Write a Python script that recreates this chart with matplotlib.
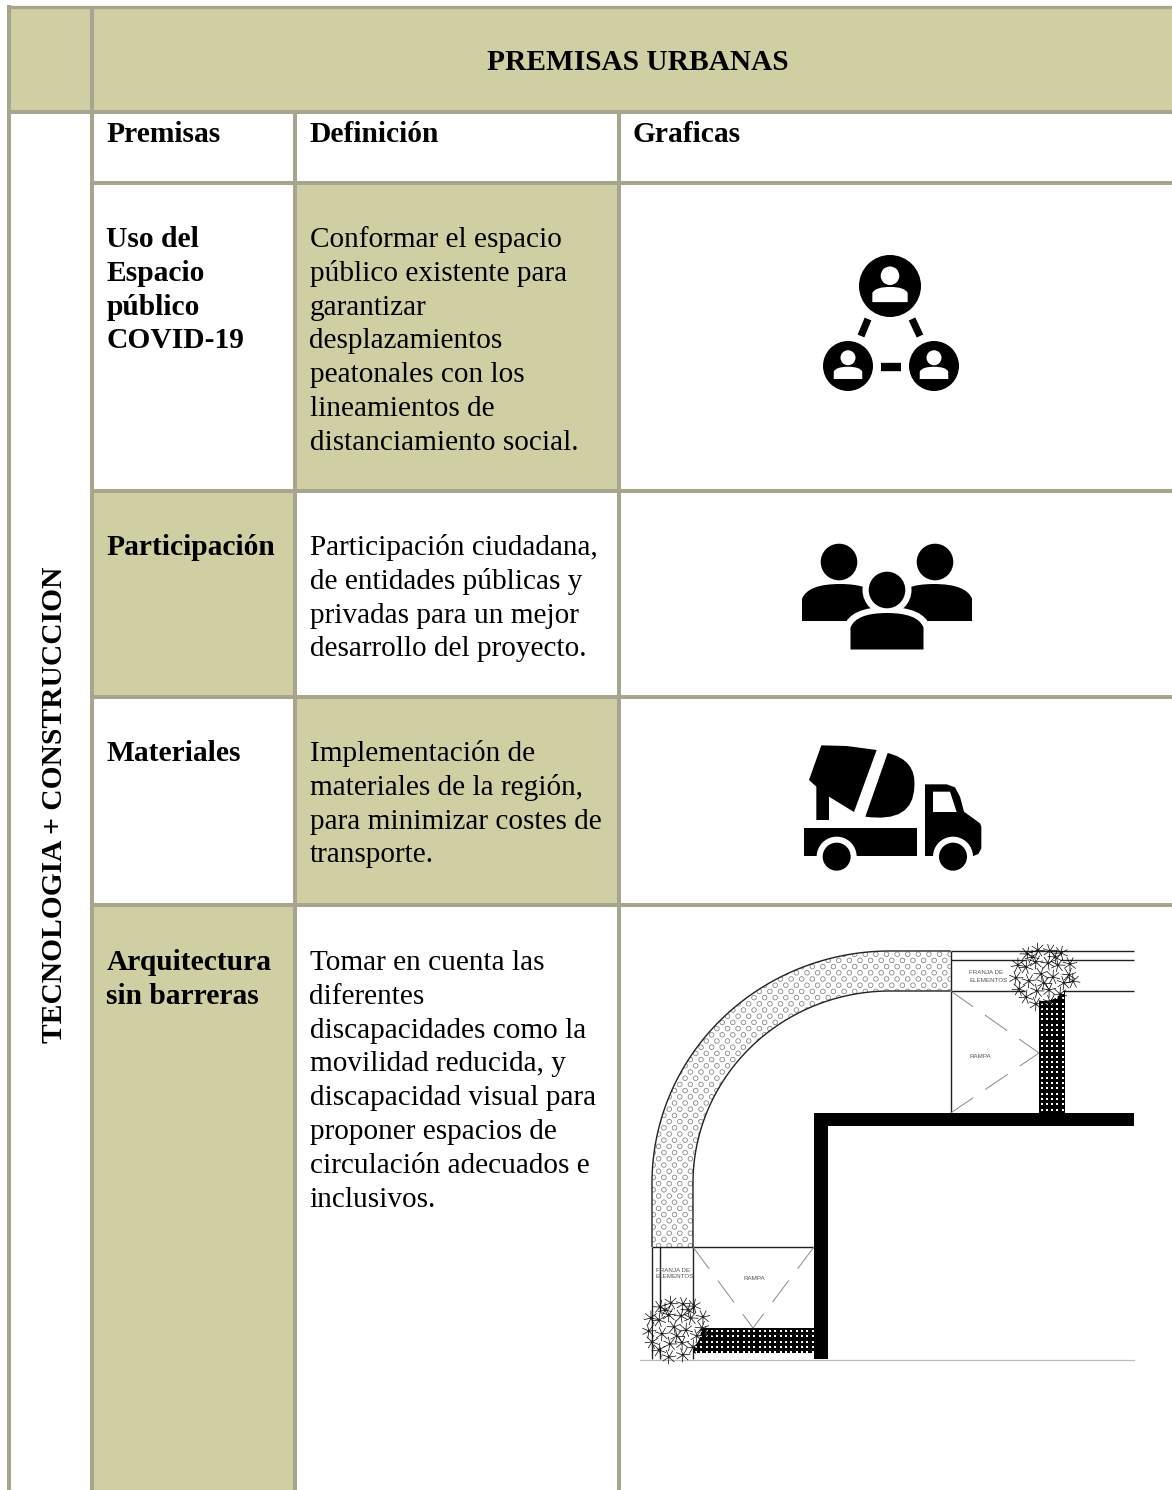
import numpy as np
import matplotlib
matplotlib.use('Agg')
import matplotlib.pyplot as plt
from matplotlib.patches import Circle, Polygon, Rectangle, PathPatch
from matplotlib.path import Path

OLIVE = '#D0CFA3'
BORDER = '#A8A58E'

W, H = 1172, 1490

v_edges = [9, 92, 295, 619]
h_edges = [6.5, 112, 183, 491, 697, 905]

title = 'PREMISAS URBANAS'
side_label = 'TECNOLOGIA + CONSTRUCCION'
col_heads = ['Premisas', 'Definición', 'Graficas']
col_head_x = [106.5, 309.5, 632.5]

premisas = [['Uso del', 'Espacio', 'público', 'COVID-19'],
            ['Participación'],
            ['Materiales'],
            ['Arquitectura', 'sin barreras']]

definiciones = [['Conformar el espacio', 'público existente para', 'garantizar', 'desplazamientos',
                 'peatonales con los', 'lineamientos de', 'distanciamiento social.'],
                ['Participación ciudadana,', 'de entidades públicas y', 'privadas para un mejor',
                 'desarrollo del proyecto.'],
                ['Implementación de', 'materiales de la región,', 'para minimizar costes de', 'transporte.'],
                ['Tomar en cuenta las', 'diferentes', 'discapacidades como la', 'movilidad reducida, y',
                 'discapacidad visual para', 'proponer espacios de', 'circulación adecuados e', 'inclusivos.']]

first_baseline = [247, 555, 761, 970]
LINE_STEP = 33.8
FS = 21.08
FS_BOLD = 21.25

fig = plt.figure(figsize=(W / 100, H / 100), dpi=100)
ax = fig.add_axes([0, 0, 1, 1])
ax.set_xlim(0, W)
ax.set_ylim(H, 0)
ax.axis('off')


def txt(x, y, s, bold=False, **kw):
    ax.text(x, y, s, family='Liberation Serif', fontsize=FS_BOLD if bold else FS, color='black',
            fontweight='bold' if bold else 'normal', va='baseline', ha='left', **kw)


def black(patch):
    patch.set_facecolor('black')
    patch.set_edgecolor('none')
    ax.add_patch(patch)


def white(patch):
    patch.set_facecolor('white')
    patch.set_edgecolor('none')
    ax.add_patch(patch)


def rect(x0, y0, x1, y1, color, z=1):
    ax.add_patch(Rectangle((x0, y0), x1 - x0, y1 - y0, facecolor=color, edgecolor='none', zorder=z))


# cells
rect(9, 6, W, 112, OLIVE)
rect(295, 183, 619, 491, OLIVE)
rect(92, 491, 295, 697, OLIVE)
rect(295, 697, 619, 905, OLIVE)
rect(92, 905, 295, H, OLIVE)

# borders
ax.vlines(v_edges[0], 4.5, H, color=BORDER, lw=2.9, zorder=2)
ax.vlines(v_edges[1], 6, H, color=BORDER, lw=2.9, zorder=2)
ax.vlines(v_edges[2:], 112, H, color=BORDER, lw=2.9, zorder=2)
ax.hlines(h_edges[0], 7, W, color=BORDER, lw=2.4, zorder=2)
ax.hlines(h_edges[1], 7, W, color=BORDER, lw=2.9, zorder=2)
ax.hlines(h_edges[2:], 92, W, color=BORDER, lw=2.9, zorder=2)

# text
ax.text(637.5, 70, title, family='Liberation Serif', fontsize=21.15, fontweight='bold',
        ha='center', va='baseline')
ax.text(55, 805, side_label, family='Liberation Serif', fontsize=FS_BOLD, fontweight='bold',
        rotation=90, ha='center', va='center')
for x, s in zip(col_head_x, col_heads):
    txt(x, 141.5, s, bold=True)
for y0, lines in zip(first_baseline, premisas):
    for i, s in enumerate(lines):
        txt(106.5, y0 + i * LINE_STEP, s, bold=True)
for y0, lines in zip(first_baseline, definiciones):
    for i, s in enumerate(lines):
        txt(309.5, y0 + i * LINE_STEP, s)


def body(cx, top, bot, w):
    h = bot - top
    verts = [(cx - w, bot), (cx - w, top + h * 0.4), (cx - w * 0.85, top), (cx, top),
             (cx + w * 0.85, top), (cx + w, top + h * 0.4), (cx + w, bot), (cx - w, bot)]
    codes = [Path.MOVETO, Path.LINETO, Path.CURVE3, Path.CURVE3, Path.CURVE3, Path.CURVE3,
             Path.LINETO, Path.CLOSEPOLY]
    return PathPatch(Path(verts, codes))


# network icon
def person_badge(cx, cy, r):
    black(Circle((cx, cy), r))
    white(Circle((cx, cy - r * 0.33), r * 0.3))
    white(body(cx, cy + r * 0.03, cy + r * 0.52, r * 0.57))


person_badge(890, 286, 31)
person_badge(848, 366, 25)
person_badge(934, 366, 25)
ax.plot([868, 861], [319, 336], color='black', lw=5.2, solid_capstyle='butt')
ax.plot([912, 920], [319, 336], color='black', lw=5.2, solid_capstyle='butt')
ax.plot([880.5, 901], [367, 367], color='black', lw=6, solid_capstyle='butt')

# people icon
black(Circle((839, 562), 18.3))
black(Circle((935, 562), 18.3))
black(body(840, 584, 621, 38))
black(body(934, 584, 621, 38))
white(Circle((887, 590), 24.5))
white(body(887, 607, 655, 43))
black(Circle((887, 590), 18.3))
black(body(887, 613, 649.5, 36.5))


# mixer truck
def tz(points):
    return [(780 + x / 3, 530 + y / 3) for x, y in points]


black(Polygon(tz([(124, 646), (200, 648), (290, 660), (222, 846), (147, 800), (147, 870), (109, 870),
                  (109, 770), (87, 750)])))
drum = tz([(323, 669), (410, 690), (403, 770), (400, 880), (256, 860), (323, 669)])
black(PathPatch(Path(drum, [Path.MOVETO, Path.CURVE3, Path.CURVE3, Path.CURVE3, Path.CURVE3, Path.LINETO])))
black(Polygon(tz([(73, 895), (411, 895), (411, 978), (73, 978)])))
black(Polygon(tz([(435, 763), (500, 763), (525, 772), (540, 800), (552, 845), (600, 880), (604, 890),
                  (604, 955), (595, 972), (580, 978), (435, 978)])))
white(Polygon(tz([(459, 785), (510, 785), (530, 846), (459, 846)])))
for wheel_x in (170, 519):
    c = tz([(wheel_x, 980)])[0]
    white(Circle(c, 20))
    black(Circle(c, 14))

# sidewalk plan
cx, cy = 890, 1183
ang = np.linspace(np.pi, 1.5 * np.pi, 80)
outer = np.column_stack([cx + 238 * np.cos(ang), cy + 232 * np.sin(ang)])
inner = np.column_stack([cx + 197 * np.cos(ang), cy + 192 * np.sin(ang)])
outer_xy = np.vstack([[652, 1247], outer, [950.7, 951]])
inner_xy = np.vstack([[693, 1247], inner, [950.7, 991]])
band = Polygon(np.vstack([outer_xy, inner_xy[::-1]]), facecolor='white', edgecolor='none', zorder=3)
ax.add_patch(band)
dot_x, dot_y = [], []
for j, yy in enumerate(np.arange(948, 1250, 6.2)):
    xs = np.arange(648 + (j % 2) * 5.3, 955, 10.6)
    dot_x.extend(xs)
    dot_y.extend([yy] * len(xs))
dots = ax.scatter(dot_x, dot_y, s=11, facecolor='none', edgecolor='#808080', lw=0.55, zorder=4)
dots.set_clip_path(band)

line = dict(color='#222222', lw=1.0, zorder=5, solid_capstyle='butt')
ax.plot(outer_xy[:, 0], outer_xy[:, 1], **line)
ax.plot(inner_xy[:, 0], inner_xy[:, 1], **line)
for yy in (951, 959.5, 991):
    ax.plot([950.7, 1134], [yy, yy], **line)
ax.plot([950.7, 950.7], [951, 1113], **line)
ax.plot([652, 814], [1247, 1247], **line)
for xx in (652, 659.5, 693):
    ax.plot([xx, xx], [1247, 1359], **line)
ax.plot([640, 1134], [1359.5, 1359.5], color='#BBBBBB', lw=0.9, zorder=5)

dash = dict(color='#888888', lw=0.7, dashes=(28, 15), zorder=5)
ax.plot([950.7, 1039], [991, 1053], **dash)
ax.plot([950.7, 1039], [1113, 1053], **dash)
ax.plot([693, 753], [1247, 1328], **dash)
ax.plot([814, 753], [1247, 1328], **dash)

# tactile strips
rect(1039, 991, 1065, 1113, 'black', z=5)
rect(693, 1328, 814, 1353, 'black', z=5)
gx, gy = np.meshgrid(np.arange(1041.5, 1065, 5.3), np.arange(993, 1113, 5.3))
ax.scatter(gx.ravel(), gy.ravel(), s=3.5, marker='s', color='white', linewidths=0, zorder=6)
gx, gy = np.meshgrid(np.arange(696, 814, 5.3), np.arange(1331, 1353, 5.3))
ax.scatter(gx.ravel(), gy.ravel(), s=3.5, marker='s', color='white', linewidths=0, zorder=6)

# wall
rect(814, 1113, 1134, 1126, 'black', z=6)
rect(814, 1113, 827.5, 1359, 'black', z=6)

small = dict(family='Liberation Sans', fontsize=4.5, color='#555555', va='center', ha='left', zorder=8)
ax.text(969, 973, 'FRANJA DE', **small)
ax.text(969, 980, 'ELEMENTOS', **small)
ax.text(969, 1057, 'RAMPA', **small)
ax.text(743, 1279, 'RAMPA', **small)
ax.text(655.5, 1270, 'FRANJA DE', **small)
ax.text(655.5, 1277, 'ELEMENTOS', **small)

# trees, each one a few clumps of leaf strokes
tree_centers = [(1044, 977), (677, 1330)]
clump_dx = [-26, -17, -6, 6, 17, 26, -28, -18, -8, 4, 14, 25, -25, -15, -3, 9, 20, 29, -18, -7, 5, 16, -8, 6, 0, 11, -12]
clump_dy = [-12, -23, -27, -26, -24, -13, 1, -10, -15, -14, -12, -2, 12, 4, -3, 0, 6, 4, 20, 14, 13, 17, 27, 25, 6, -20, -20]
for tx, ty in tree_centers:
    white(Circle((tx, ty), 24, zorder=6))
    for dx, dy in zip(clump_dx, clump_dy):
        for a in np.linspace(0, 2 * np.pi, 8)[:-1] + dx * 0.13:
            ax.plot([tx + dx, tx + dx + 7 * np.cos(a)], [ty + dy, ty + dy + 7 * np.sin(a)],
                    color='black', lw=0.5, zorder=7)
        ax.add_patch(Circle((tx + dx, ty + dy), 1.4, facecolor='#222222', edgecolor='none', zorder=7))

fig.savefig('out.png', dpi=100, facecolor='white')
